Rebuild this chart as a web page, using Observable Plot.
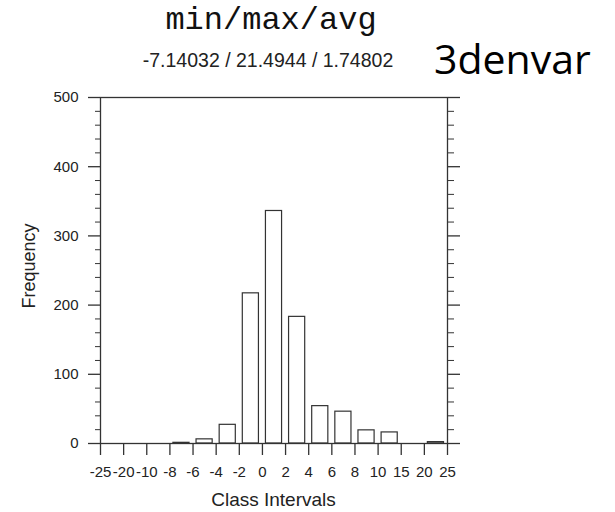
<!DOCTYPE html>
<html>
<head>
<meta charset="utf-8">
<script src="https://cdn.jsdelivr.net/npm/d3@7"></script>
<script src="https://cdn.jsdelivr.net/npm/@observablehq/plot@0.6"></script>
<style>
  html, body { margin: 0; padding: 0; background: #fff; }
  #chart { width: 615px; height: 512px; }
</style>
</head>
<body>
<div id="chart"></div>
<script>
// ---- data ----
const edges = [-25, -20, -10, -8, -6, -4, -2, 0, 2, 4, 6, 8, 10, 15, 20, 25];
const counts = [0, 0, 0, 1, 6, 27, 217, 336, 183, 54, 46, 19, 16, 0, 2];
const yMajorTicks = [0, 100, 200, 300, 400, 500];
const yMinorTicks = [20, 40, 60, 80, 120, 140, 160, 180, 220, 240, 260, 280, 320, 340, 360, 380, 420, 440, 460, 480];
const titleText = "min/max/avg";
const statsText = "-7.14032 / 21.4944 / 1.74802";
const sideText = "3denvar";
const xLabel = "Class Intervals";
const yLabel = "Frequency";

const bins = counts.map((c, i) => ({i, lo: edges[i], hi: edges[i + 1], c}));
const ink = "#333";

const svg = Plot.plot({
  width: 615,
  height: 512,
  marginLeft: 100,
  marginRight: 168,
  marginTop: 97,
  marginBottom: 69,
  style: {fontFamily: "'Liberation Sans', Arial, sans-serif", fontSize: "15px", color: "#222", background: "#fff"},
  x: {domain: [0, edges.length - 1]},
  y: {domain: [0, 500]},
  marks: [
    Plot.rectY(bins, {
      x1: "i", x2: d => d.i + 1, y: "c",
      insetLeft: 3.5, insetRight: 3.5,
      fill: "white", stroke: ink, strokeWidth: 1.2
    }),
    Plot.frame({stroke: ink, strokeWidth: 1.3}),
    Plot.axisX({
      ticks: d3.range(edges.length),
      tickFormat: i => edges[i],
      tickSize: 12, tickPadding: 11,
      stroke: ink, strokeWidth: 1.3,
      label: null
    }),
    Plot.axisY({
      ticks: yMajorTicks, tickSize: 12, tickPadding: 10,
      stroke: ink, strokeWidth: 1.3, label: null
    }),
    Plot.axisY({
      ticks: yMinorTicks, tickSize: 5, text: null,
      stroke: ink, strokeWidth: 1, label: null
    }),
    Plot.axisY({
      anchor: "right", ticks: yMajorTicks, tickSize: 12, text: null,
      stroke: ink, strokeWidth: 1.3, label: null
    }),
    Plot.axisY({
      anchor: "right", ticks: yMinorTicks, tickSize: 6, text: null,
      stroke: ink, strokeWidth: 1, label: null
    })
  ]
});

const s = d3.select(svg);
function addText(txt, x, y, opts) {
  const t = s.append("text")
    .attr("x", x).attr("y", y)
    .attr("text-anchor", opts.anchor || "middle")
    .attr("font-family", opts.family)
    .attr("font-size", opts.size)
    .attr("fill", opts.fill || "#111")
    .text(txt);
  if (opts.rotate) t.attr("transform", `rotate(${opts.rotate} ${x} ${y})`);
  return t;
}
addText(titleText, 271, 29, {family: "'Liberation Mono', 'Courier New', monospace", size: 32});
addText(statsText, 268, 67, {family: "'Liberation Sans', Arial, sans-serif", size: 19.5, fill: "#222"});
addText(sideText, 434, 74, {family: "'Open Sans', sans-serif", size: 41, anchor: "start", fill: "#000"});
addText(xLabel, 273.5, 506, {family: "'Liberation Sans', Arial, sans-serif", size: 19, fill: "#222"});
addText(yLabel, 35, 266, {family: "'Liberation Sans', Arial, sans-serif", size: 18, fill: "#222", rotate: -90});

document.getElementById("chart").appendChild(svg);
</script>
</body>
</html>
